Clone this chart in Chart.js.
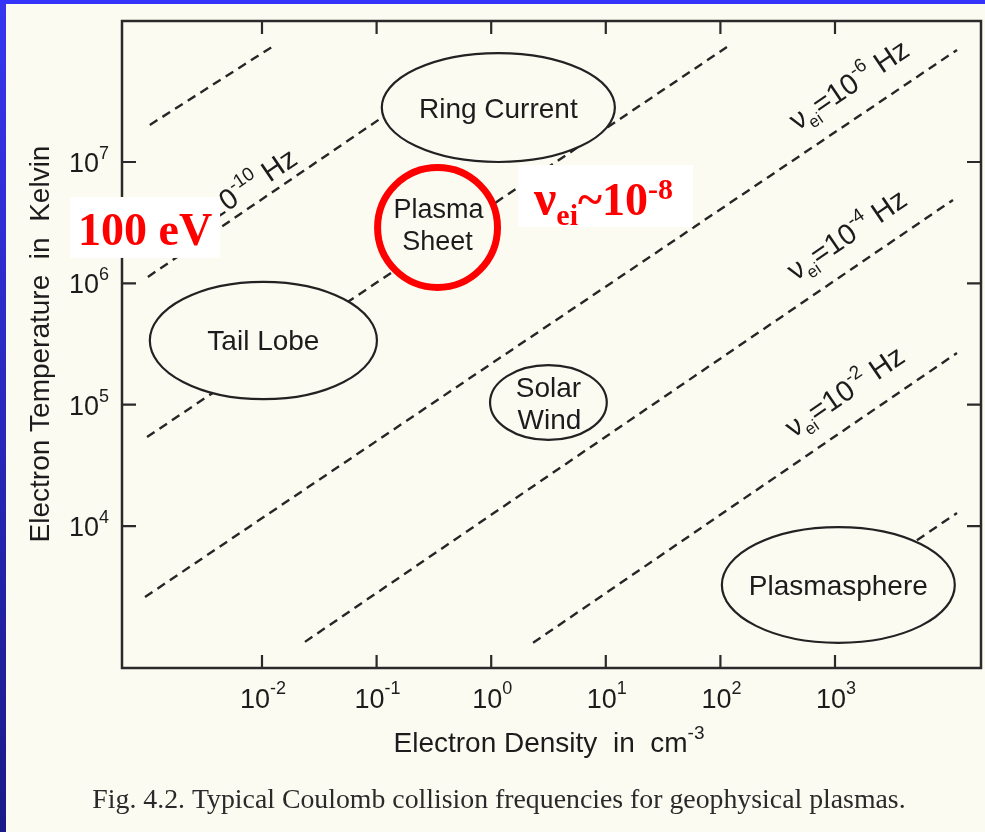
<!DOCTYPE html>
<html>
<head>
<meta charset="utf-8">
<script src="https://cdn.jsdelivr.net/npm/chart.js@4.4.1/dist/chart.umd.min.js"></script>
<style>
html,body{margin:0;padding:0;background:#fcfbf2;}
canvas{display:block;}
</style>
</head>
<body>
<canvas id="c" width="985" height="832"></canvas>
<script>
// ---------- data ----------
const xTickExponents = [-2, -1, 0, 1, 2, 3];   // electron density ticks 10^e cm^-3
const yTickExponents = [4, 5, 6, 7];           // temperature ticks 10^e K

// constant collision-frequency lines (dashed)
const lineFrequencies  = ['1e-12', '1e-10', '1e-8', '1e-6', '1e-4', '1e-2', '1e0'];
const lineDensityStart = [1.05e-3, 1.01e-3, 9.93e-4, 9.53e-4, 2.37e-2, 2.32, 904];
const lineDensityEnd   = [1.22e-2, 0.357, 114, 1.16e4, 1.07e4, 1.16e4, 1.16e4];
const lineTempStart    = [2.02e7, 1.13e6, 5.41e4, 2.6e3, 1.11e3, 1.09e3, 2.5e3];
const lineTempEnd      = [8.87e7, 4.92e7, 8.87e7, 8.38e7, 4.87e6, 2.67e5, 1.28e4];

// plasma regions (ellipses)
const regionNames      = ['Ring Current', 'Tail Lobe', 'Solar|Wind', 'Plasmasphere'];
const regionDensityMin = [0.111, 1.05e-3, 0.977, 103];
const regionDensityMax = [12.0, 0.1007, 10.2, 1.11e4];
const regionTempMin    = [1.0e7, 1.11e5, 5.12e4, 1.09e3];
const regionTempMax    = [7.9e7, 1.03e6, 2.12e5, 9.8e3];

// highlighted region (red circle)
const sheetName    = 'Plasma|Sheet';
const sheetDensity = [0.102, 1.135];
const sheetTemp    = [9.25e5, 9.0e6];

// line labels
const labelExponents = ['-10', '-6', '-4', '-2'];
const labelLine      = [1, 3, 4, 5];
const labelDensity   = [1.81e-3, 470, 452, 434];
const labelTemp      = [2.03e6, 1.80e7, 1.04e6, 5.3e4];

// red annotations (boxes given in data space)
const evBoxDensity = [2.11e-4, 4.31e-3];
const evBoxTemp    = [1.62e6, 5.15e6];
const nuBoxDensity = [1.71, 57.7];
const nuBoxTemp    = [2.91e6, 9.45e6];

const xRange = [Math.pow(10, -3.2216), Math.pow(10, 4.274)];
const yRange = [Math.pow(10, 2.830), Math.pow(10, 8.162)];

// ---------- styling ----------
const BG = '#fcfbf2';
const INK = '#1c1c1c';
const SANS = '"Liberation Sans", Arial, Helvetica, sans-serif';
const SERIF = '"Liberation Serif", "Times New Roman", serif';

const datasets = lineFrequencies.map((f, i) => ({
  label: 'nu=' + f,
  data: [{x: lineDensityStart[i], y: lineTempStart[i]}, {x: lineDensityEnd[i], y: lineTempEnd[i]}],
  showLine: true,
  borderColor: '#262626',
  borderWidth: 2.4,
  borderDash: [9, 6],
  pointRadius: 0,
  fill: false
}));

function drawParts(ctx, parts, x, y, align) {
  let w = 0;
  parts.forEach(p => { ctx.font = p.font; p.w = ctx.measureText(p.t).width; w += p.w + (p.gap || 0); });
  let cx = x;
  if (align === 'center') cx = x - w / 2;
  else if (align === 'right') cx = x - w;
  parts.forEach(p => {
    ctx.font = p.font;
    ctx.fillText(p.t, cx, y + (p.dy || 0));
    cx += p.w + (p.gap || 0);
  });
  return w;
}

const decor = {
  id: 'decor',
  beforeDraw(chart) {
    const ctx = chart.ctx;
    ctx.save();
    ctx.fillStyle = BG;
    ctx.fillRect(0, 0, chart.width, chart.height);
    ctx.restore();
  },
  afterDatasetsDraw(chart) {
    const ctx = chart.ctx;
    const xs = chart.scales.x, ys = chart.scales.y;
    const ca = chart.chartArea;
    ctx.save();

    // ellipses for plasma regions
    ctx.textAlign = 'left';
    ctx.textBaseline = 'alphabetic';
    const RF = '28px ' + SANS;
    regionNames.forEach((name, i) => {
      const x0 = xs.getPixelForValue(regionDensityMin[i]);
      const x1 = xs.getPixelForValue(regionDensityMax[i]);
      const y0 = ys.getPixelForValue(regionTempMax[i]);
      const y1 = ys.getPixelForValue(regionTempMin[i]);
      const cx = (x0 + x1) / 2, cy = (y0 + y1) / 2;
      ctx.beginPath();
      ctx.ellipse(cx, cy, (x1 - x0) / 2, (y1 - y0) / 2, 0, 0, Math.PI * 2);
      ctx.fillStyle = BG;
      ctx.fill();
      ctx.lineWidth = 2.2;
      ctx.strokeStyle = '#222';
      ctx.stroke();
      ctx.fillStyle = INK;
      const lines = name.split('|');
      if (lines.length === 1) {
        drawParts(ctx, [{t: lines[0], font: RF}], cx, cy + 10, 'center');
      } else {
        drawParts(ctx, [{t: lines[0], font: RF}], cx, cy - 6, 'center');
        drawParts(ctx, [{t: lines[1], font: RF}], cx + 1, cy + 26, 'center');
      }
    });

    // plasma sheet with red circle
    {
      const x0 = xs.getPixelForValue(sheetDensity[0]);
      const x1 = xs.getPixelForValue(sheetDensity[1]);
      const y0 = ys.getPixelForValue(sheetTemp[1]);
      const y1 = ys.getPixelForValue(sheetTemp[0]);
      const cx = (x0 + x1) / 2, cy = (y0 + y1) / 2;
      ctx.beginPath();
      ctx.ellipse(cx, cy, (x1 - x0) / 2, (y1 - y0) / 2, 0, 0, Math.PI * 2);
      ctx.fillStyle = BG;
      ctx.fill();
      ctx.lineWidth = 7;
      ctx.strokeStyle = '#ff0000';
      ctx.stroke();
      ctx.fillStyle = INK;
      const lines = sheetName.split('|');
      drawParts(ctx, [{t: lines[0], font: '27px ' + SANS}], cx + 1, cy - 10, 'center');
      drawParts(ctx, [{t: lines[1], font: '27px ' + SANS}], cx, cy + 22, 'center');
    }

    // line labels, rotated along their lines
    labelExponents.forEach((e, i) => {
      const li = labelLine[i];
      const px0 = xs.getPixelForValue(lineDensityStart[li]);
      const py0 = ys.getPixelForValue(lineTempStart[li]);
      const px1 = xs.getPixelForValue(lineDensityEnd[li]);
      const py1 = ys.getPixelForValue(lineTempEnd[li]);
      const ang = Math.atan2(py1 - py0, px1 - px0);
      const ax = xs.getPixelForValue(labelDensity[i]);
      const ay = ys.getPixelForValue(labelTemp[i]);
      ctx.save();
      ctx.translate(ax, ay);
      ctx.rotate(ang);
      ctx.fillStyle = INK;
      drawParts(ctx, [
        {t: 'ν', font: '29px ' + SANS},
        {t: 'ei', font: '17px ' + SANS, dy: 7},
        {t: '=10', font: '29px ' + SANS},
        {t: e, font: '19px ' + SANS, dy: -13},
        {t: ' Hz', font: '29px ' + SANS}
      ], 0, 0, 'left');
      ctx.restore();
    });

    // plot frame
    ctx.lineWidth = 2.5;
    ctx.strokeStyle = '#2a2a2a';
    ctx.strokeRect(ca.left, ca.top, ca.right - ca.left, ca.bottom - ca.top);

    // ticks and tick labels
    ctx.lineWidth = 2.2;
    ctx.fillStyle = INK;
    xTickExponents.forEach(e => {
      const px = xs.getPixelForValue(Math.pow(10, e));
      ctx.beginPath();
      ctx.moveTo(px, ca.bottom); ctx.lineTo(px, ca.bottom - 13);
      ctx.moveTo(px, ca.top); ctx.lineTo(px, ca.top + 13);
      ctx.stroke();
      drawParts(ctx, [
        {t: '10', font: '27px ' + SANS},
        {t: (e < 0 ? '-' : '') + Math.abs(e), font: '18px ' + SANS, dy: -14}
      ], px + 1, ca.bottom + 40, 'center');
    });
    yTickExponents.forEach(e => {
      const py = ys.getPixelForValue(Math.pow(10, e));
      ctx.beginPath();
      ctx.moveTo(ca.left, py); ctx.lineTo(ca.left + 14, py);
      ctx.moveTo(ca.right, py); ctx.lineTo(ca.right - 14, py);
      ctx.stroke();
      drawParts(ctx, [
        {t: '10', font: '27px ' + SANS},
        {t: String(e), font: '18px ' + SANS, dy: -13}
      ], ca.left - 13, py + 10, 'right');
    });

    // axis titles
    drawParts(ctx, [
      {t: 'Electron Density  in  cm', font: '28px ' + SANS},
      {t: '-3', font: '19px ' + SANS, dy: -13}
    ], 549, ca.bottom + 84, 'center');
    ctx.save();
    ctx.translate(49, 344);
    ctx.rotate(-Math.PI / 2);
    drawParts(ctx, [{t: 'Electron Temperature  in  Kelvin', font: '28px ' + SANS}], 0, 0, 'center');
    ctx.restore();

    // caption
    ctx.fillStyle = '#2a2a2a';
    drawParts(ctx, [{t: 'Fig. 4.2. Typical Coulomb collision frequencies for geophysical plasmas.', font: '27.8px ' + SERIF}], 499, 808, 'center');

    // red annotations
    const evx0 = xs.getPixelForValue(evBoxDensity[0]), evx1 = xs.getPixelForValue(evBoxDensity[1]);
    const evy0 = ys.getPixelForValue(evBoxTemp[1]), evy1 = ys.getPixelForValue(evBoxTemp[0]);
    ctx.fillStyle = '#ffffff';
    ctx.fillRect(evx0, evy0, evx1 - evx0, evy1 - evy0);
    ctx.fillStyle = '#ff0000';
    drawParts(ctx, [{t: '100 eV', font: 'bold 46px ' + SERIF}], (evx0 + evx1) / 2, evy1 - 13, 'center');

    const nx0 = xs.getPixelForValue(nuBoxDensity[0]), nx1 = xs.getPixelForValue(nuBoxDensity[1]);
    const ny0 = ys.getPixelForValue(nuBoxTemp[1]), ny1 = ys.getPixelForValue(nuBoxTemp[0]);
    ctx.fillStyle = '#ffffff';
    ctx.fillRect(nx0, ny0, nx1 - nx0, ny1 - ny0);
    ctx.fillStyle = '#ff0000';
    drawParts(ctx, [
      {t: 'ν', font: 'bold 50px ' + SERIF},
      {t: 'ei', font: 'bold 30px ' + SERIF, dy: 10},
      {t: '~10', font: 'bold 46px ' + SERIF},
      {t: '-8', font: 'bold 30px ' + SERIF, dy: -16}
    ], (nx0 + nx1) / 2 - 2, ny1 - 12, 'center');

    // slide frame (blue)
    const g = ctx.createLinearGradient(0, 0, 0, chart.height);
    g.addColorStop(0, '#3636f0');
    g.addColorStop(1, '#1a1a88');
    ctx.fillStyle = g;
    ctx.fillRect(0, 0, 6, chart.height);
    ctx.fillStyle = '#3434fa';
    ctx.fillRect(0, 0, chart.width, 4);

    ctx.restore();
  }
};

new Chart(document.getElementById('c'), {
  type: 'scatter',
  data: {datasets},
  options: {
    responsive: false,
    animation: false,
    devicePixelRatio: 1,
    layout: {padding: {left: 122, right: 4, top: 21, bottom: 164}},
    plugins: {legend: {display: false}, tooltip: {enabled: false}},
    scales: {
      x: {type: 'logarithmic', display: false, min: xRange[0], max: xRange[1], bounds: 'data'},
      y: {type: 'logarithmic', display: false, min: yRange[0], max: yRange[1], bounds: 'data'}
    }
  },
  plugins: [decor]
});
</script>
</body>
</html>
